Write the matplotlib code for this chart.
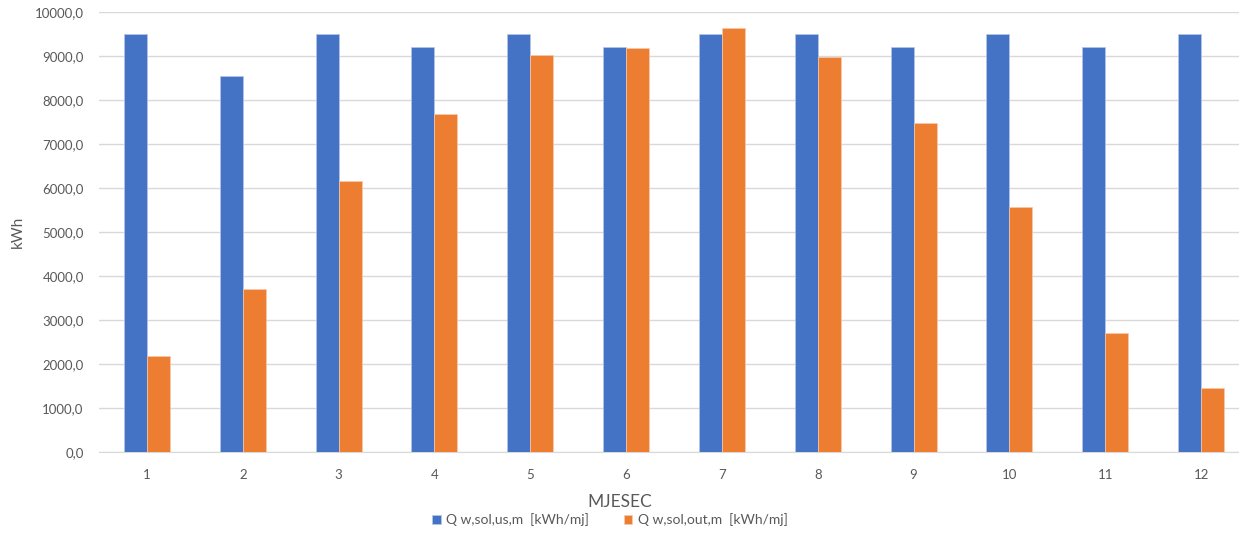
import numpy as np
import matplotlib
matplotlib.use("Agg")
import matplotlib.pyplot as plt
from matplotlib.ticker import FuncFormatter

plt.rcParams["font.family"] = ["Lato", "DejaVu Sans"]

# Data
months = [str(m) for m in range(1, 13)]
q_us = [9500, 8550, 9500, 9200, 9500, 9200, 9500, 9500, 9200, 9500, 9200, 9500]
q_out = [2180, 3700, 6160, 7680, 9020, 9180, 9640, 8980, 7480, 5570, 2700, 1450]
labels = ["Q w,sol,us,m  [kWh/mj]", "Q w,sol,out,m  [kWh/mj]"]

gray = "#595959"
fig = plt.figure(figsize=(12.39, 5.33), dpi=100)
ax = fig.add_axes([99 / 1239, 1 - 452 / 533, 1150 / 1239, 440 / 533])

x = np.arange(len(months))
w = 0.24
ax.bar(x - w / 2, q_us, w, color="#4472C4", edgecolor="#b4c7e7", linewidth=0.5, label=labels[0], zorder=3)
ax.bar(x + w / 2, q_out, w, color="#ED7D31", edgecolor="#f8cbad", linewidth=0.5, label=labels[1], zorder=3)

ax.set_xlim(-0.5, 11.5)
ax.set_ylim(0, 10000)
ax.set_yticks(np.arange(0, 10001, 1000))
ax.yaxis.set_major_formatter(FuncFormatter(lambda v, p: f"{v:.1f}".replace(".", ",")))
ax.set_xticks(x)
ax.set_xticklabels(months)
ax.grid(axis="y", color="#d9d9d9", linewidth=1, zorder=0)
for s in ["top", "right", "left"]:
    ax.spines[s].set_visible(False)
ax.spines["bottom"].set_color("#d9d9d9")
ax.tick_params(axis="both", length=0, colors=gray, labelsize=9.5)
ax.tick_params(axis="y", pad=11)
ax.tick_params(axis="x", pad=12)

ax.set_ylabel("kWh", color=gray, fontsize=11, labelpad=7)
ax.set_xlabel("MJESEC", color=gray, fontsize=12.5, labelpad=4)
ax.xaxis.set_label_coords((620 - 99) / 1150, -(494 - 452) / 440)

fig.legend(loc="center", bbox_to_anchor=(610 / 1239, 1 - 520 / 533), ncol=2, frameon=False,
           fontsize=10, labelcolor=gray, handlelength=0.6, handleheight=0.6,
           handletextpad=0.4, columnspacing=2.5)

plt.savefig("out.png", dpi=100)
plt.close()
